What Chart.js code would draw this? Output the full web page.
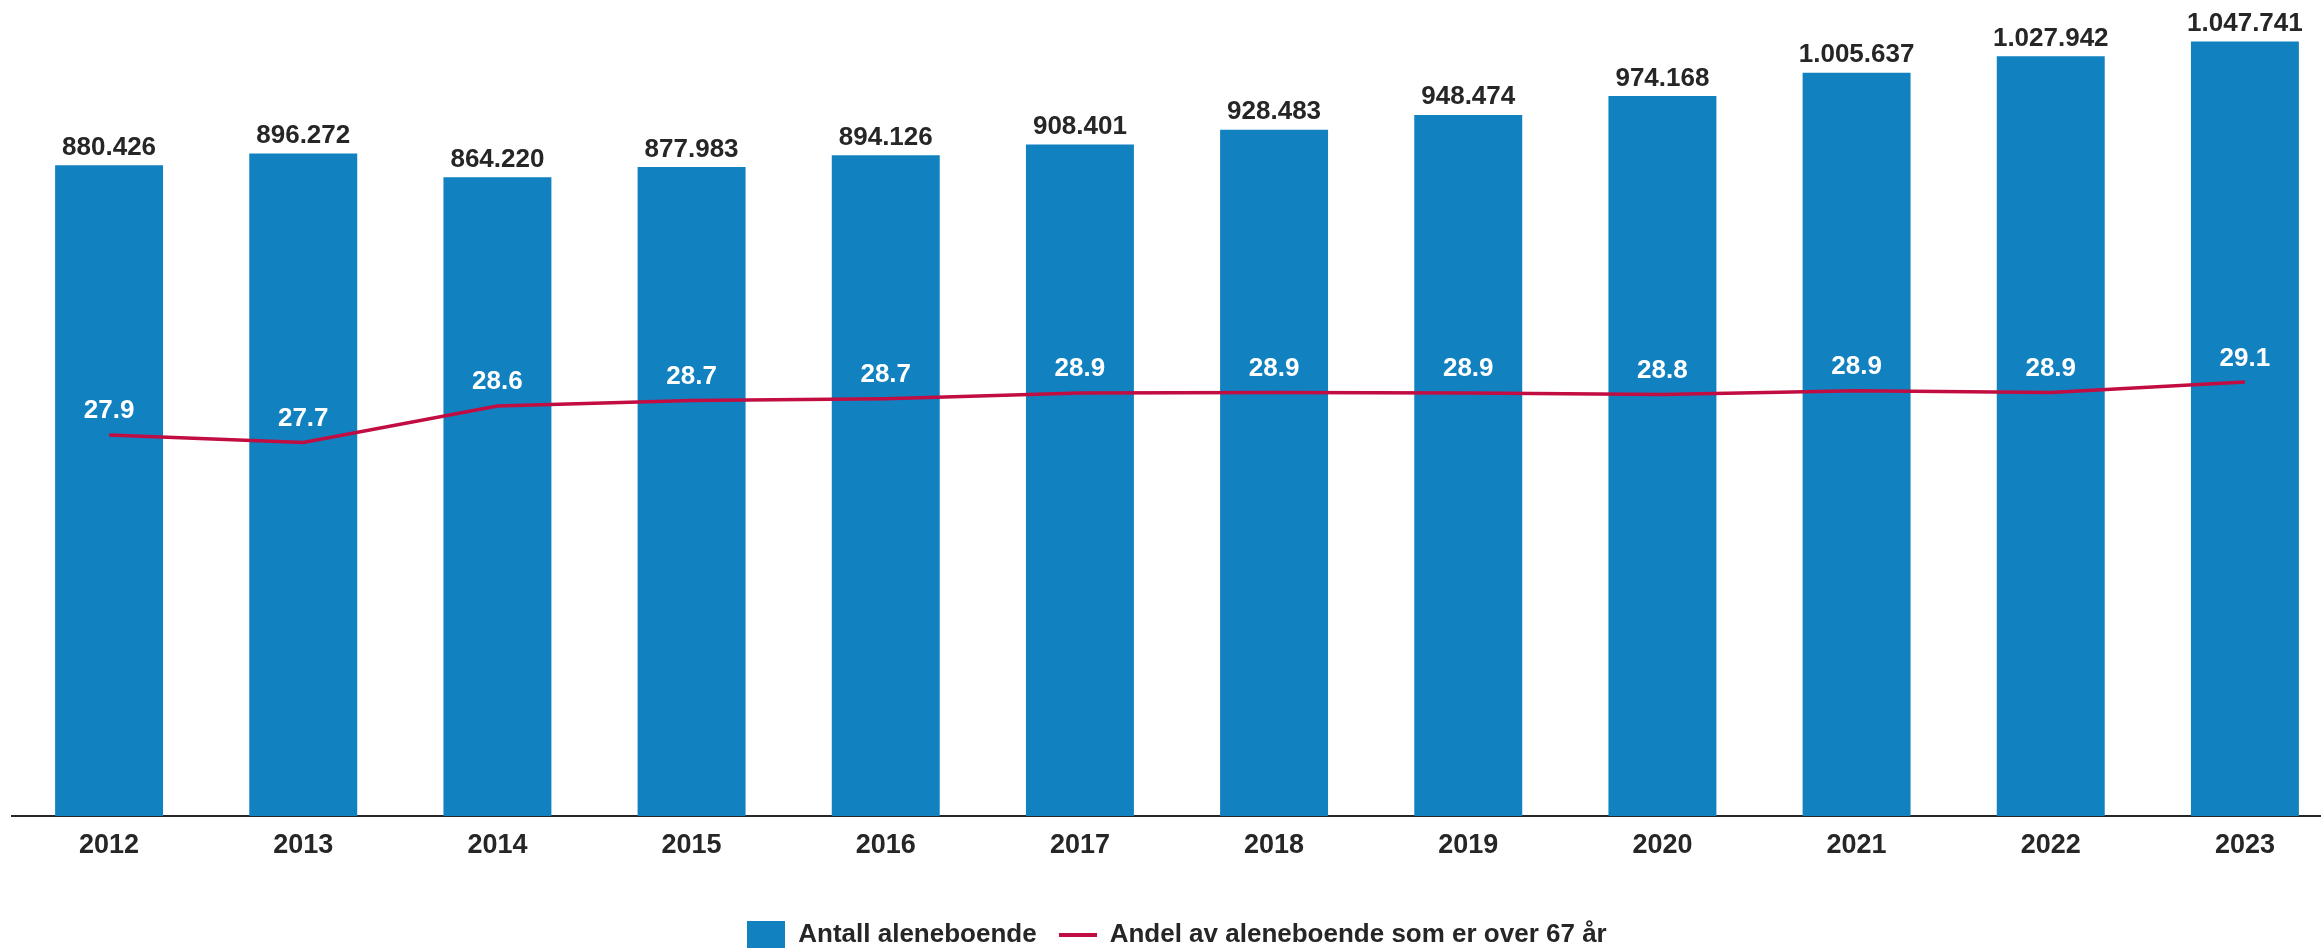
<!DOCTYPE html>
<html>
<head>
<meta charset="utf-8">
<script src="https://cdn.jsdelivr.net/npm/chart.js@4.4.1/dist/chart.umd.min.js"></script>
<style>
html, body { margin: 0; padding: 0; background: #ffffff; overflow: hidden; }
#wrap { width: 2342px; height: 958px; position: relative; }
</style>
</head>
<body>
<div id="wrap"><canvas id="chart"></canvas></div>
<script>
// ---- Data ----
const years = ['2012', '2013', '2014', '2015', '2016', '2017', '2018', '2019', '2020', '2021', '2022', '2023'];
const antallAleneboende = [880426, 896272, 864220, 877983, 894126, 908401, 928483, 948474, 974168, 1005637, 1027942, 1047741];
const andelOver67 = [27.88, 27.70, 28.57, 28.70, 28.74, 28.88, 28.89, 28.88, 28.84, 28.93, 28.89, 29.14];
const seriesNames = ['Antall aleneboende', 'Andel av aleneboende som er over 67 år'];

// ---- Styles ----
const FONT = '"Liberation Sans", Arial, sans-serif';
const BAR_COLOR = '#1181c0';
const LINE_COLOR = '#c10d42';
const TEXT_COLOR = '#262626';

function fmtThousands(v) {
  return String(v).replace(/\B(?=(\d{3})+(?!\d))/g, '.');
}

function makeSwatch(w, h, color) {
  const c = document.createElement('canvas');
  c.width = w; c.height = h;
  const g = c.getContext('2d');
  g.fillStyle = color;
  g.fillRect(0, 0, w, h);
  return c;
}
const barSwatch = makeSwatch(38, 28, BAR_COLOR);
const lineSwatch = makeSwatch(38, 4, LINE_COLOR);

const valueLabels = {
  id: 'valueLabels',
  afterDatasetsDraw(chart) {
    const ctx = chart.ctx;
    ctx.save();
    ctx.textAlign = 'center';
    ctx.textBaseline = 'alphabetic';
    ctx.font = 'bold 26px ' + FONT;
    ctx.fillStyle = TEXT_COLOR;
    chart.getDatasetMeta(0).data.forEach((el, i) => {
      ctx.fillText(fmtThousands(antallAleneboende[i]), el.x, el.y - 10.5);
    });
    ctx.fillStyle = '#ffffff';
    chart.getDatasetMeta(1).data.forEach((el, i) => {
      ctx.fillText(andelOver67[i].toFixed(1), el.x, el.y - 16.5);
    });
    ctx.restore();
  }
};

new Chart(document.getElementById('chart'), {
  data: {
    labels: years,
    datasets: [
      {
        type: 'bar',
        label: seriesNames[0],
        data: antallAleneboende,
        backgroundColor: BAR_COLOR,
        borderWidth: 0,
        barPercentage: 0.556,
        categoryPercentage: 1.0,
        yAxisID: 'y',
        order: 2
      },
      {
        type: 'line',
        label: seriesNames[1],
        data: andelOver67,
        borderColor: LINE_COLOR,
        backgroundColor: LINE_COLOR,
        borderWidth: 3.5,
        pointRadius: 0,
        tension: 0,
        yAxisID: 'y1',
        order: 1
      }
    ]
  },
  options: {
    responsive: true,
    maintainAspectRatio: false,
    devicePixelRatio: 1,
    animation: false,
    layout: { padding: { top: 3, left: 12, right: 0, bottom: 0 } },
    scales: {
      x: {
        z: 1,
        grid: { display: false, drawTicks: false },
        border: { display: true, color: TEXT_COLOR, width: 2 },
        ticks: { color: TEXT_COLOR, padding: 13, font: { family: FONT, size: 27, weight: 'bold' } },
        afterFit(scale) { scale.height = 84; }
      },
      y: { display: false, min: 0, max: 1100000 },
      y1: { display: false, position: 'right', min: 18.807, max: 38.164 }
    },
    plugins: {
      tooltip: { enabled: false },
      legend: {
        position: 'bottom',
        labels: {
          usePointStyle: true,
          pointStyleWidth: 38,
          boxHeight: 26,
          padding: 22,
          color: TEXT_COLOR,
          font: { family: FONT, size: 26, weight: 'bold' },
          generateLabels: () => [
            { text: seriesNames[0], pointStyle: barSwatch, fillStyle: BAR_COLOR, strokeStyle: BAR_COLOR, lineWidth: 0, fontColor: TEXT_COLOR, hidden: false, datasetIndex: 0 },
            { text: seriesNames[1], pointStyle: lineSwatch, fillStyle: LINE_COLOR, strokeStyle: LINE_COLOR, lineWidth: 0, fontColor: TEXT_COLOR, hidden: false, datasetIndex: 1 }
          ]
        }
      }
    }
  },
  plugins: [valueLabels]
});
</script>
</body>
</html>
